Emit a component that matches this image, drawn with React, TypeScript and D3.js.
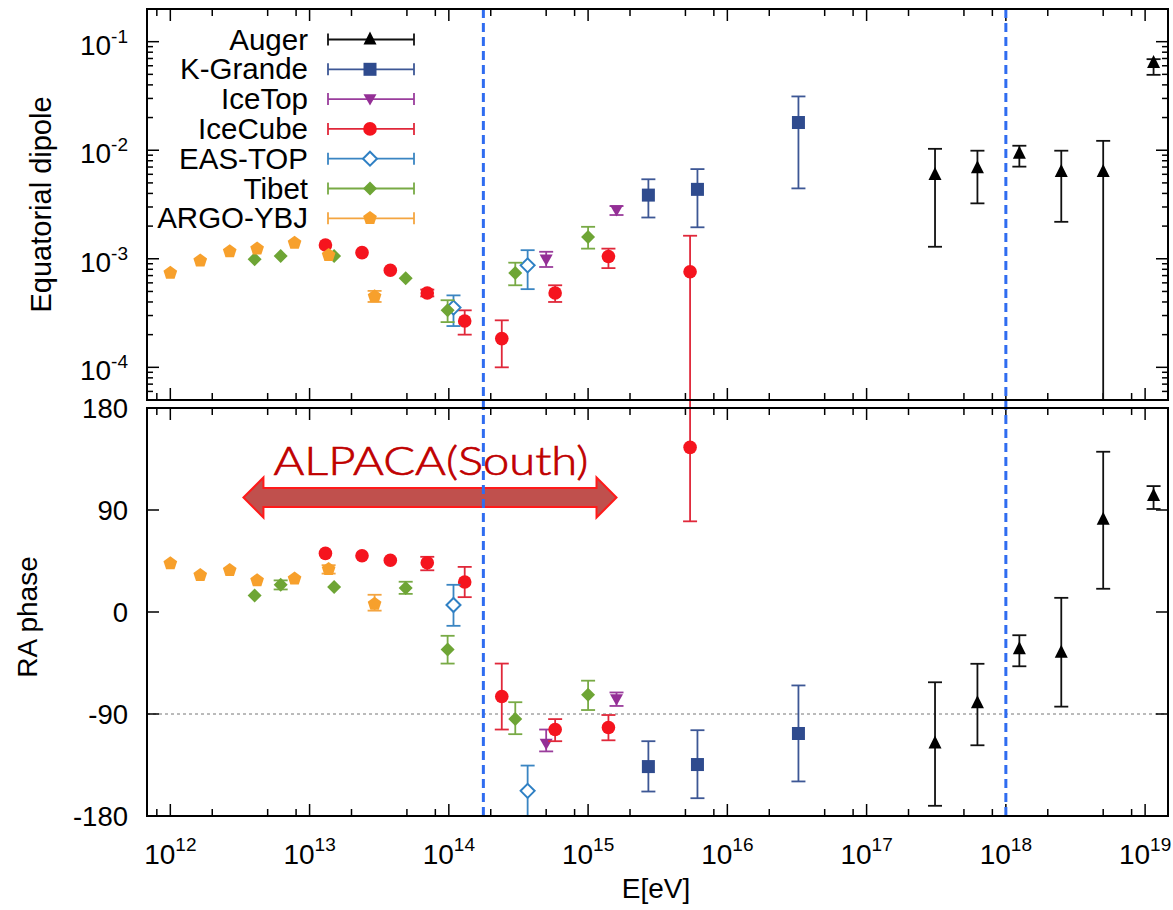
import React from 'react';
import * as d3 from 'd3';

const W = 1173, H = 910;
const X0 = 147, X1 = 1168;
const TOP_Y0 = 9, TOP_Y1 = 400;
const BOT_Y0 = 408, BOT_Y1 = 816;

const xDomain = [6.8e11, 1.46e19];
const dipDomain = [5e-5, 0.2];
const phaseDomain = [-180, 180];

const xMajorTicks = [1e12, 1e13, 1e14, 1e15, 1e16, 1e17, 1e18, 1e19];
const xTickLabels = ['12', '13', '14', '15', '16', '17', '18', '19'];
const xMinorMult = [2, 5, 8];
const dipMajorTicks = [1e-4, 1e-3, 1e-2, 1e-1];
const dipTickLabels = ['-4', '-3', '-2', '-1'];
const phaseTicks = [-180, -90, 0, 90, 180];
const verticalLines = [1.77e14, 1e18];
const alpacaRange = [3.35e12, 1.6e15];
const alpacaPhase = 101;

// ---- Auger
const augerE = [3.1e17, 6.25e17, 1.25e18, 2.5e18, 5.0e18, 1.15e19];
const augerDip = [5.9e-3, 6.8e-3, 9.25e-3, 6.3e-3, 6.3e-3, 6.36e-2];
const augerDipHi = [1.03e-2, 9.9e-3, 1.1e-2, 9.9e-3, 1.22e-2, 6.9e-2];
const augerDipLo = [1.29e-3, 3.24e-3, 7.06e-3, 2.19e-3, 1e-6, 4.95e-2];
const augerPh = [-116, -80.5, -33, -36, 81.4, 102.2];
const augerPhHi = [-62, -45.7, -20.5, 12.5, 141.4, 111.1];
const augerPhLo = [-171, -117.6, -47.9, -83.5, 20.5, 90.9];

// ---- K-Grande
const kgE = [2.71e15, 6.1e15, 3.24e16];
const kgDip = [3.86e-3, 4.36e-3, 1.8e-2];
const kgDipHi = [5.4e-3, 6.7e-3, 3.13e-2];
const kgDipLo = [2.4e-3, 1.95e-3, 4.45e-3];
const kgPh = [-136.4, -134.6, -107.2];
const kgPhHi = [-114, -104.3, -64.8];
const kgPhLo = [-158.4, -164.3, -149.5];

// ---- IceTop
const itE = [5.0e14, 1.6e15];
const itDip = [9.86e-4, 2.81e-3];
const itDipHi = [1.16e-3, 3.06e-3];
const itDipLo = [8.4e-4, 2.53e-3];
const itPh = [-116.1, -76.9];
const itPhHi = [-103.7, -71];
const itPhLo = [-123, -82.9];

// ---- IceCube
const icE = [1.3e13, 2.38e13, 3.8e13, 7.0e13, 1.3e14, 2.4e14, 5.8e14, 1.4e15, 5.4e15];
const icDip = [1.34e-3, 1.14e-3, 7.85e-4, 4.84e-4, 2.67e-4, 1.84e-4, 4.84e-4, 1.05e-3, 7.6e-4];
const icDipHi = [1.34e-3, 1.14e-3, 7.85e-4, 5.2e-4, 3.35e-4, 2.71e-4, 5.7e-4, 1.24e-3, 1.63e-3];
const icDipLo = [1.34e-3, 1.14e-3, 7.85e-4, 4.5e-4, 2.0e-4, 1.0e-4, 4.0e-4, 8.2e-4, 1e-6];
const icPh = [51.7, 49.6, 45.7, 43.4, 26.5, -74.6, -103.7, -101.9, 145.3];
const icPhHi = [51.7, 49.6, 45.7, 48.7, 39.8, -45.5, -94.5, -90.9, 200];
const icPhLo = [51.7, 49.6, 45.7, 36.8, 13.1, -103.7, -114, -113.2, 80];

// ---- EAS-TOP
const etE = [1.08e14, 3.68e14];
const etDip = [3.55e-4, 8.7e-4];
const etDipHi = [4.6e-4, 1.2e-3];
const etDipLo = [2.4e-4, 5.25e-4];
const etPh = [6.2, -157.8];
const etPhHi = [24, -135.5];
const etPhLo = [-12.2, -180];

// ---- Tibet
const tbE = [4.03e12, 6.2e12, 1.5e13, 4.9e13, 9.8e13, 3.0e14, 1.0e15];
const tbDip = [9.9e-4, 1.06e-3, 1.06e-3, 6.6e-4, 3.35e-4, 7.4e-4, 1.59e-3];
const tbDipHi = [9.9e-4, 1.06e-3, 1.06e-3, 6.6e-4, 4.15e-4, 9.2e-4, 1.97e-3];
const tbDipLo = [9.9e-4, 1.06e-3, 1.06e-3, 6.6e-4, 2.61e-4, 5.7e-4, 1.24e-3];
const tbPh = [14.5, 24, 22, 21.1, -33, -94.5, -73.1];
const tbPhHi = [14.5, 27.9, 22, 26.7, -21, -79.6, -60.6];
const tbPhLo = [14.5, 19.9, 22, 16, -45.5, -107.8, -86.5];

// ---- ARGO-YBJ
const agE = [1.0e12, 1.64e12, 2.67e12, 4.2e12, 7.8e12, 1.37e13, 2.93e13];
const agDip = [7.4e-4, 9.6e-4, 1.17e-3, 1.24e-3, 1.4e-3, 1.08e-3, 4.5e-4];
const agDipHi = [7.4e-4, 9.6e-4, 1.17e-3, 1.24e-3, 1.4e-3, 1.08e-3, 5.06e-4];
const agDipLo = [7.4e-4, 9.6e-4, 1.17e-3, 1.24e-3, 1.4e-3, 1.08e-3, 4.0e-4];
const agPh = [42.8, 32.4, 36.8, 27.9, 29.4, 37.7, 7.1];
const agPhHi = [42.8, 32.4, 36.8, 27.9, 29.4, 41.3, 15.2];
const agPhLo = [42.8, 32.4, 36.8, 27.9, 29.4, 33.9, 1.2];

type Marker = 'triUp' | 'square' | 'triDown' | 'circle' | 'diamondOpen' | 'diamond' | 'pentagon';
interface Series {
  name: string; color: string; line: string; marker: Marker;
  e: number[]; dip: number[]; dipHi: number[]; dipLo: number[];
  ph: number[]; phHi: number[]; phLo: number[];
}

const series: Series[] = [
  { name: 'Auger', color: '#000000', line: '#111111', marker: 'triUp', e: augerE, dip: augerDip, dipHi: augerDipHi, dipLo: augerDipLo, ph: augerPh, phHi: augerPhHi, phLo: augerPhLo },
  { name: 'K-Grande', color: '#2f4b8e', line: '#3d5795', marker: 'square', e: kgE, dip: kgDip, dipHi: kgDipHi, dipLo: kgDipLo, ph: kgPh, phHi: kgPhHi, phLo: kgPhLo },
  { name: 'IceTop', color: '#942f96', line: '#9a3d9c', marker: 'triDown', e: itE, dip: itDip, dipHi: itDipHi, dipLo: itDipLo, ph: itPh, phHi: itPhHi, phLo: itPhLo },
  { name: 'IceCube', color: '#f5141e', line: '#e0283a', marker: 'circle', e: icE, dip: icDip, dipHi: icDipHi, dipLo: icDipLo, ph: icPh, phHi: icPhHi, phLo: icPhLo },
  { name: 'EAS-TOP', color: '#2f80c4', line: '#3a85c2', marker: 'diamondOpen', e: etE, dip: etDip, dipHi: etDipHi, dipLo: etDipLo, ph: etPh, phHi: etPhHi, phLo: etPhLo },
  { name: 'Tibet', color: '#6ea535', line: '#78aa45', marker: 'diamond', e: tbE, dip: tbDip, dipHi: tbDipHi, dipLo: tbDipLo, ph: tbPh, phHi: tbPhHi, phLo: tbPhLo },
  { name: 'ARGO-YBJ', color: '#f7a02c', line: '#f4a540', marker: 'pentagon', e: agE, dip: agDip, dipHi: agDipHi, dipLo: agDipLo, ph: agPh, phHi: agPhHi, phLo: agPhLo },
];

const FONT = "'Liberation Sans', Arial, Helvetica, sans-serif";

function markerEl(m: Marker, cx: number, cy: number, color: string, key?: string) {
  switch (m) {
    case 'triUp': {
      const s = 13;
      return <polygon key={key} points={`${cx},${cy - s * 0.62} ${cx + s / 2},${cy + s * 0.38} ${cx - s / 2},${cy + s * 0.38}`} fill={color} />;
    }
    case 'triDown': {
      const s = 13;
      return <polygon key={key} points={`${cx},${cy + s * 0.5} ${cx + s / 2},${cy - s * 0.38} ${cx - s / 2},${cy - s * 0.38}`} fill={color} />;
    }
    case 'square': {
      const s = 13;
      return <rect key={key} x={cx - s / 2} y={cy - s / 2} width={s} height={s} fill={color} />;
    }
    case 'circle':
      return <circle key={key} cx={cx} cy={cy} r={6.8} fill={color} />;
    case 'diamondOpen': {
      const s = 7;
      return <polygon key={key} points={`${cx},${cy - s} ${cx + s},${cy} ${cx},${cy + s} ${cx - s},${cy}`} fill="white" stroke={color} strokeWidth={2} />;
    }
    case 'diamond': {
      const s = 7;
      return <polygon key={key} points={`${cx},${cy - s} ${cx + s},${cy} ${cx},${cy + s} ${cx - s},${cy}`} fill={color} />;
    }
    case 'pentagon': {
      const r = 7.2;
      const pts = d3.range(5).map(i => {
        const a = -Math.PI / 2 + i * 2 * Math.PI / 5;
        return `${cx + r * Math.cos(a)},${cy + r * Math.sin(a)}`;
      }).join(' ');
      return <polygon key={key} points={pts} fill={color} />;
    }
  }
}

export default function App() {
  const x = d3.scaleLog().domain(xDomain).range([X0, X1]);
  const yDip = d3.scaleLog().domain(dipDomain).range([TOP_Y1, TOP_Y0]);
  const yPh = d3.scaleLinear().domain(phaseDomain).range([BOT_Y1, BOT_Y0]);

  const xMinor: number[] = [];
  for (let d = 11; d <= 19; d++) for (const m of xMinorMult) {
    const v = m * Math.pow(10, d);
    if (v > xDomain[0] && v < xDomain[1]) xMinor.push(v);
  }
  const dipMinor: number[] = [];
  for (let d = -5; d <= -1; d++) for (let m = 2; m <= 9; m++) {
    const v = m * Math.pow(10, d);
    if (v > dipDomain[0] && v < dipDomain[1]) dipMinor.push(v);
  }

  const cap = 7;
  const errBar = (xx: number, y1: number, y2: number, color: string, key: string) => (
    <g key={key} stroke={color} strokeWidth={1.8}>
      <line x1={xx} x2={xx} y1={y1} y2={y2} />
      <line x1={xx - cap} x2={xx + cap} y1={y1} y2={y1} />
      <line x1={xx - cap} x2={xx + cap} y1={y2} y2={y2} />
    </g>
  );

  const xTicks = (y0: number, y1: number, key: string) => (
    <g key={key} stroke="#000" strokeWidth={1.5}>
      {xMajorTicks.map((t, i) => (
        <g key={i}>
          <line x1={x(t)} x2={x(t)} y1={y0} y2={y0 + 12} />
          <line x1={x(t)} x2={x(t)} y1={y1} y2={y1 - 12} />
        </g>
      ))}
      {xMinor.map((t, i) => (
        <g key={'m' + i}>
          <line x1={x(t)} x2={x(t)} y1={y0} y2={y0 + 7} />
          <line x1={x(t)} x2={x(t)} y1={y1} y2={y1 - 7} />
        </g>
      ))}
    </g>
  );

  const arrowY = yPh(alpacaPhase);
  const ax0 = x(alpacaRange[0]), ax1 = x(alpacaRange[1]);
  const headL = 20, headH = 20, shaftH = 9.5;
  const arrowPts = [
    [ax0, arrowY], [ax0 + headL, arrowY - headH], [ax0 + headL, arrowY - shaftH],
    [ax1 - headL, arrowY - shaftH], [ax1 - headL, arrowY - headH], [ax1, arrowY],
    [ax1 - headL, arrowY + headH], [ax1 - headL, arrowY + shaftH], [ax0 + headL, arrowY + shaftH],
    [ax0 + headL, arrowY + headH],
  ].map(p => p.join(',')).join(' ');

  return (
    <svg width={W} height={H} viewBox={`0 0 ${W} ${H}`} style={{ display: 'block', position: 'absolute', left: 0, top: 0, background: '#fff' }} fontFamily={FONT}>
      <defs>
        <clipPath id="clipTop"><rect x={X0} y={TOP_Y0} width={X1 - X0} height={TOP_Y1 - TOP_Y0} /></clipPath>
        <clipPath id="clipBot"><rect x={X0} y={TOP_Y1} width={X1 - X0} height={BOT_Y1 - TOP_Y1} /></clipPath>
      </defs>
      <rect x={0} y={0} width={W} height={H} fill="#fff" />

      {/* -90 dotted reference line */}
      <line x1={X0} x2={X1} y1={yPh(-90)} y2={yPh(-90)} stroke="#777" strokeWidth={1} strokeDasharray="3,3" />

      {/* ticks */}
      {xTicks(TOP_Y0, TOP_Y1, 'tx')}
      {xTicks(BOT_Y0, BOT_Y1, 'bx')}
      <g stroke="#000" strokeWidth={1.5}>
        {dipMajorTicks.map((t, i) => (
          <g key={i}>
            <line x1={X0} x2={X0 + 12} y1={yDip(t)} y2={yDip(t)} />
            <line x1={X1} x2={X1 - 12} y1={yDip(t)} y2={yDip(t)} />
          </g>
        ))}
        {dipMinor.map((t, i) => (
          <g key={'m' + i}>
            <line x1={X0} x2={X0 + 6} y1={yDip(t)} y2={yDip(t)} />
            <line x1={X1} x2={X1 - 6} y1={yDip(t)} y2={yDip(t)} />
          </g>
        ))}
        {phaseTicks.map((t, i) => (
          <g key={'p' + i}>
            <line x1={X0} x2={X0 + 12} y1={yPh(t)} y2={yPh(t)} />
            <line x1={X1} x2={X1 - 12} y1={yPh(t)} y2={yPh(t)} />
          </g>
        ))}
      </g>

      {/* data: top */}
      <g clipPath="url(#clipTop)">
        {series.map(s => (
          <g key={s.name}>
            {s.e.map((e, i) => (s.dipHi[i] !== s.dipLo[i] ? errBar(x(e), yDip(Math.max(s.dipLo[i], 1e-6)), yDip(s.dipHi[i]), s.line, 'e' + i) : null))}
            {s.e.map((e, i) => markerEl(s.marker, x(e), yDip(s.dip[i]), s.color, 'm' + i))}
          </g>
        ))}
      </g>
      {/* data: bottom */}
      <g clipPath="url(#clipBot)">
        {series.map(s => (
          <g key={s.name}>
            {s.e.map((e, i) => (s.phHi[i] !== s.phLo[i] ? errBar(x(e), yPh(s.phLo[i]), yPh(s.phHi[i]), s.line, 'e' + i) : null))}
            {s.e.map((e, i) => markerEl(s.marker, x(e), yPh(s.ph[i]), s.color, 'm' + i))}
          </g>
        ))}
      </g>

      {/* ALPACA arrow */}
      <polygon points={arrowPts} fill="#c0504d" stroke="#ff1a1a" strokeWidth={2} strokeLinejoin="miter" />
      <text x={(ax0 + ax1) / 2 + 1} y={475} textAnchor="middle" fontFamily="'Lato', 'Open Sans', 'DejaVu Sans', sans-serif" fontWeight={300} fontSize={40} fill="#c00000" stroke="#c00000" strokeWidth={0.7} textLength={315} lengthAdjust="spacingAndGlyphs">ALPACA(South)</text>

      {/* vertical dashed lines */}
      {verticalLines.map((v, i) => (
        <line key={i} x1={x(v)} x2={x(v)} y1={TOP_Y0} y2={BOT_Y1} stroke="#2f6cf0" strokeWidth={3} strokeDasharray="9,5" />
      ))}

      {/* frames */}
      <rect x={X0} y={TOP_Y0} width={X1 - X0} height={TOP_Y1 - TOP_Y0} fill="none" stroke="#000" strokeWidth={2} />
      <rect x={X0} y={BOT_Y0} width={X1 - X0} height={BOT_Y1 - BOT_Y0} fill="none" stroke="#000" strokeWidth={2} />

      {/* legend */}
      <g>
        {series.map((s, i) => {
          const cy = 39.5 + i * 29.8;
          return (
            <g key={s.name}>
              <text x={308} y={cy + 10} textAnchor="end" fontSize={29.5} fill="#000">{s.name}</text>
              <g stroke={s.line} strokeWidth={1.8}>
                <line x1={328} x2={414} y1={cy} y2={cy} />
                <line x1={328} x2={328} y1={cy - 6} y2={cy + 6} />
                <line x1={414} x2={414} y1={cy - 6} y2={cy + 6} />
              </g>
              {markerEl(s.marker, 370, cy, s.color)}
            </g>
          );
        })}
      </g>

      {/* axis labels */}
      {dipMajorTicks.map((t, i) => (
        <text key={i} x={128} y={yDip(t) + 13} textAnchor="end" fontSize={28} fill="#000">10<tspan dy={-12} fontSize={19}>{dipTickLabels[i]}</tspan></text>
      ))}
      {phaseTicks.map((t, i) => (
        <text key={i} x={128} y={yPh(t) + 9.5} textAnchor="end" fontSize={27.5} fill="#000">{t}</text>
      ))}
      {xMajorTicks.map((t, i) => (
        <text key={i} x={x(t)} y={864} textAnchor="middle" fontSize={28} fill="#000">10<tspan dy={-13} fontSize={19}>{xTickLabels[i]}</tspan></text>
      ))}
      <text transform={`translate(51, ${(TOP_Y0 + TOP_Y1) / 2}) rotate(-90)`} textAnchor="middle" fontSize={29} fill="#000">Equatorial dipole</text>
      <text transform={`translate(37, ${(BOT_Y0 + BOT_Y1) / 2 + 5}) rotate(-90)`} textAnchor="middle" fontSize={28} fill="#000">RA phase</text>
      <text x={656} y={898} textAnchor="middle" fontSize={28} fill="#000">E[eV]</text>
    </svg>
  );
}
